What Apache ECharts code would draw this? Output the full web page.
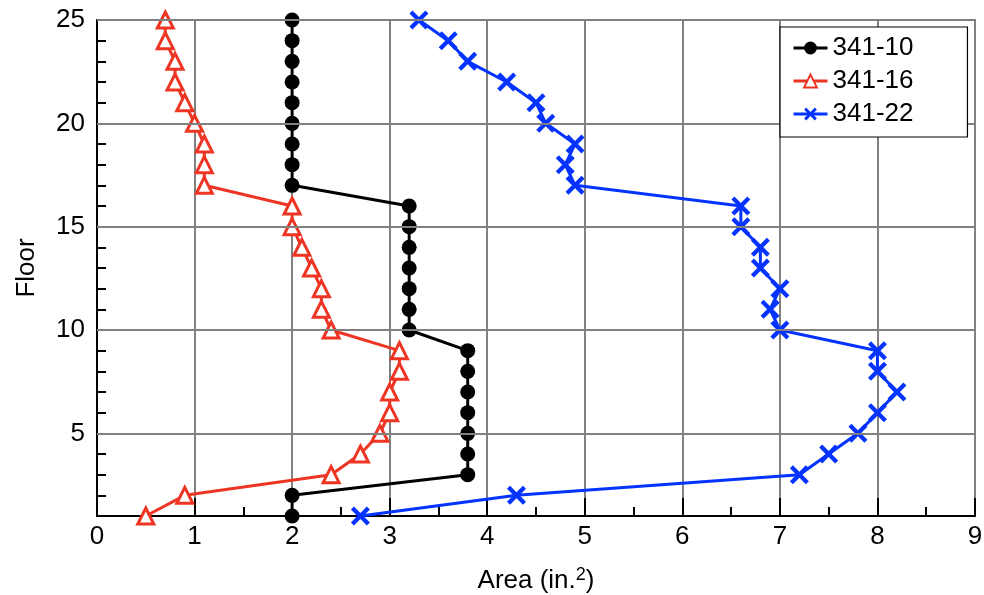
<!DOCTYPE html>
<html>
<head>
<meta charset="utf-8">
<script src="https://cdn.jsdelivr.net/npm/echarts@6/dist/echarts.min.js"></script>
<style>
  html, body { margin: 0; padding: 0; background: #fff; }
  #chart { width: 984px; height: 595px; }
</style>
</head>
<body>
<div id="chart"></div>
<script>
// floors (y) and area per floor (x) for each column
const floors = [1, 2, 3, 4, 5, 6, 7, 8, 9, 10, 11, 12, 13, 14, 15, 16, 17, 18, 19, 20, 21, 22, 23, 24, 25];
const area341_10 = [2, 2, 3.8, 3.8, 3.8, 3.8, 3.8, 3.8, 3.8, 3.2, 3.2, 3.2, 3.2, 3.2, 3.2, 3.2, 2, 2, 2, 2, 2, 2, 2, 2, 2];
const area341_16 = [0.5, 0.9, 2.4, 2.7, 2.9, 3.0, 3.0, 3.1, 3.1, 2.4, 2.3, 2.3, 2.2, 2.1, 2.0, 2.0, 1.1, 1.1, 1.1, 1.0, 0.9, 0.8, 0.8, 0.7, 0.7];
const area341_22 = [2.7, 4.3, 7.2, 7.5, 7.8, 8.0, 8.2, 8.0, 8.0, 7.0, 6.9, 7.0, 6.8, 6.8, 6.6, 6.6, 4.9, 4.8, 4.9, 4.6, 4.5, 4.2, 3.8, 3.6, 3.3];
const seriesNames = ['341-10', '341-16', '341-22'];
const floorGrid = [5, 10, 15, 20, 25];

const FONT = '"Liberation Sans", Arial, Helvetica, sans-serif';
// filled "x" marker
const crossPath = 'path://M0,1.6L1.6,0L5,3.4L8.4,0L10,1.6L6.6,5L10,8.4L8.4,10L5,6.6L1.6,10L0,8.4L3.4,5Z';

function pairs(xs) {
  return xs.map(function (x, i) { return [x, floors[i]]; });
}

const chart = echarts.init(document.getElementById('chart'));
chart.setOption({
  animation: false,
  backgroundColor: '#ffffff',
  textStyle: { fontFamily: FONT },
  grid: {
    left: 97, right: 9, top: 20, bottom: 79,
    outerBoundsMode: 'none',
    show: true, borderColor: '#000', borderWidth: 1.5, backgroundColor: 'transparent'
  },
  legend: {
    data: seriesNames,
    orient: 'vertical',
    left: 780, top: 27,
    padding: [8, 54, 10, 12],
    itemGap: 7,
    itemWidth: 34, itemHeight: 16,
    backgroundColor: '#fff',
    borderColor: '#000', borderWidth: 1.2, borderRadius: 0,
    z: 10,
    lineStyle: { width: 3 },
    textStyle: { fontSize: 26, lineHeight: 26, color: '#000', fontFamily: FONT }
  },
  xAxis: {
    type: 'value', min: 0, max: 9, interval: 1,
    name: 'Area (in.{sup|2})', nameLocation: 'middle', nameGap: 50,
    nameTextStyle: {
      fontSize: 26, color: '#000', fontFamily: FONT,
      rich: { sup: { fontSize: 18, verticalAlign: 'top', padding: [0, 0, 12, 0], color: '#000', fontFamily: FONT } }
    },
    axisLine: { show: true, onZero: false, lineStyle: { color: '#000', width: 2 } },
    axisTick: { show: true, inside: true, length: 18, lineStyle: { color: '#000', width: 2 } },
    minorTick: { show: true, splitNumber: 2, length: 9, lineStyle: { color: '#000', width: 2 } },
    axisLabel: { fontSize: 26, color: '#000', margin: 8, fontFamily: FONT },
    splitLine: { show: true, lineStyle: { color: '#808080', width: 2 } }
  },
  yAxis: [{
    type: 'value', min: 1, max: 25, interval: 1,
    name: 'Floor', nameLocation: 'middle', nameGap: 57, nameRotate: 90,
    nameTextStyle: { fontSize: 26, color: '#000', fontFamily: FONT },
    axisLine: { show: true, onZero: false, lineStyle: { color: '#000', width: 2 } },
    axisTick: { show: true, inside: true, length: 9, lineStyle: { color: '#000', width: 2 } },
    axisLabel: {
      fontSize: 26, color: '#000', margin: 12, fontFamily: FONT,
      formatter: function (v) { return v % 5 === 0 ? String(v) : ''; }
    },
    splitLine: { show: false }
  }, {
    type: 'value', min: 1, max: 25, position: 'left',
    axisLine: { show: false },
    axisTick: { show: true, inside: true, length: 18, customValues: floorGrid, lineStyle: { color: '#000', width: 2 } },
    axisLabel: { show: false },
    splitLine: { show: false }
  }],
  series: [
    {
      name: 'grid', type: 'line', data: [], silent: true, z: 1,
      markLine: {
        silent: true, symbol: 'none', label: { show: false },
        lineStyle: { color: '#808080', width: 2, type: 'solid' },
        emphasis: { disabled: true },
        data: floorGrid.map(function (v) { return { yAxis: v }; })
      }
    },
    {
      name: seriesNames[0], type: 'line', data: pairs(area341_10), z: 3,
      symbol: 'circle', symbolSize: 15,
      lineStyle: { color: '#000', width: 3 },
      itemStyle: { color: '#000' }
    },
    {
      name: seriesNames[1], type: 'line', data: pairs(area341_16), z: 3,
      symbol: 'triangle', symbolSize: 16,
      lineStyle: { color: '#ee3524', width: 3 },
      itemStyle: { color: '#fff', borderColor: '#ee3524', borderWidth: 3 }
    },
    {
      name: seriesNames[2], type: 'line', data: pairs(area341_22), z: 3,
      symbol: crossPath, symbolSize: 19,
      lineStyle: { color: '#0433ff', width: 3 },
      itemStyle: { color: '#0433ff' }
    }
  ]
});
</script>
</body>
</html>
